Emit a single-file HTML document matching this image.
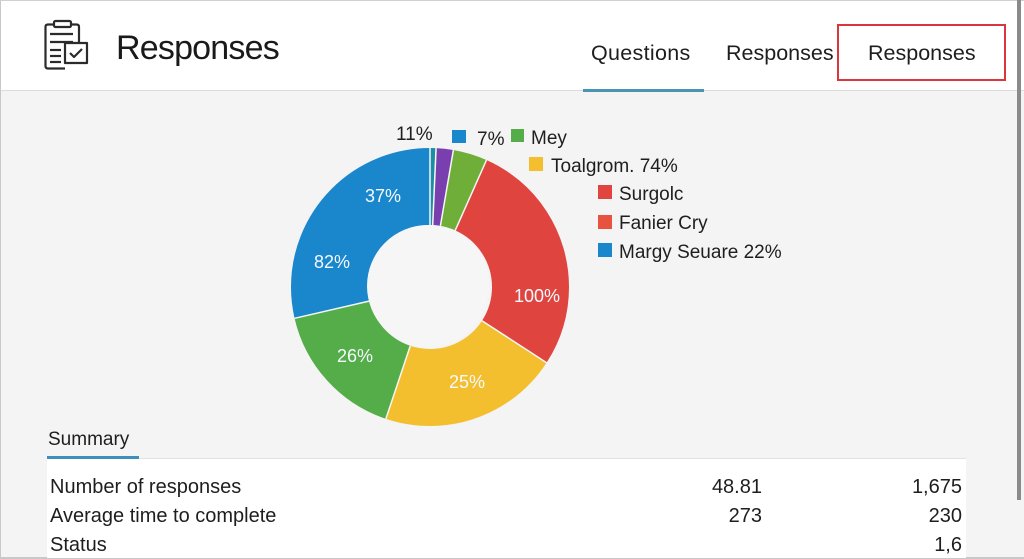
<!DOCTYPE html>
<html><head><meta charset="utf-8"><style>
html,body{margin:0;padding:0;}
body{width:1024px;height:559px;overflow:hidden;background:#f4f4f4;font-family:"Liberation Sans",sans-serif;color:#1e1e1e;position:relative;}
.a{position:absolute;white-space:nowrap;}
</style></head><body>
<div class="a" style="left:0;top:0;width:1024px;height:90px;background:#fff;border-bottom:1px solid #dcdcdc;"></div>
<div class="a" style="left:0;top:0;width:1px;height:559px;background:#c8c8c8;"></div>
<div class="a" style="left:0;top:0;width:1024px;height:1px;background:#d0d0d0;"></div>
<div class="a" style="left:0;top:557px;width:1024px;height:2px;background:#c8c8c8;"></div>
<div class="a" style="left:1017px;top:0;width:4px;height:500px;background:#8a8a8a;"></div>
<svg class="a" style="left:0;top:0" width="1024" height="559">
<g fill="none" stroke="#2b2b2b" stroke-width="2.2" stroke-linejoin="round">
<path d="M54 24.5 H48 Q45.5 24.5 45.5 27 V66 Q45.5 68.5 48 68.5 H65"/>
<path d="M71 24.5 H76.5 Q79 24.5 79 27 V42"/>
<rect x="54" y="21" width="17" height="6" rx="1.5"/>
<line x1="50" y1="34" x2="73" y2="34"/>
<line x1="50" y1="42" x2="73" y2="42"/>
<line x1="50" y1="50" x2="61" y2="50"/>
<line x1="50" y1="56" x2="61" y2="56"/>
<line x1="50" y1="62" x2="61" y2="62"/>
<rect x="65" y="43" width="22" height="20" fill="#fff"/>
<path d="M70 53 L74 57 L82 49"/>
</g>
<g transform="rotate(-90 430 287)" fill="none" stroke-width="77">
<circle cx="430" cy="287" r="100.5" stroke="#1a86cc" stroke-dasharray="180.5 631.46" stroke-dashoffset="-450.8"/>
<circle cx="430" cy="287" r="100.5" stroke="#54ad48" stroke-dasharray="102.8 631.46" stroke-dashoffset="-348.1"/>
<circle cx="430" cy="287" r="100.5" stroke="#f4bf2e" stroke-dasharray="132.6 631.46" stroke-dashoffset="-215.7"/>
<circle cx="430" cy="287" r="100.5" stroke="#e0443f" stroke-dasharray="173.8 631.46" stroke-dashoffset="-42.0"/>
<circle cx="430" cy="287" r="100.5" stroke="#6fae38" stroke-dasharray="25.3 631.46" stroke-dashoffset="-16.9"/>
<circle cx="430" cy="287" r="100.5" stroke="#7a3fae" stroke-dasharray="12.6 631.46" stroke-dashoffset="-4.3"/>
<circle cx="430" cy="287" r="100.5" stroke="#1a8fa3" stroke-dasharray="4.0 631.46" stroke-dashoffset="0"/>
</g>
<g stroke="#f6f6f6" stroke-width="1.5">
<line x1="455.2" y1="230.4" x2="486.5" y2="160.0"/>
<line x1="482.0" y1="320.8" x2="546.6" y2="362.7"/>
<line x1="410.3" y1="345.8" x2="385.9" y2="418.8"/>
<line x1="369.6" y1="301.0" x2="294.6" y2="318.3"/>
<line x1="440.4" y1="225.9" x2="453.4" y2="150.0"/>
<line x1="432.7" y1="225.1" x2="436.1" y2="148.1"/>
<line x1="430" y1="225" x2="430" y2="148"/>
</g>
<circle cx="428" cy="286" r="61" fill="#f6f6f6"/>
<g font-family="Liberation Sans, sans-serif" font-size="18" fill="#f4f9ff" text-anchor="middle">
<text x="383" y="202">37%</text>
<text x="332" y="268">82%</text>
<text x="537" y="302">100%</text>
<text x="355" y="362">26%</text>
<text x="467" y="388">25%</text>
</g>
<g font-family="Liberation Sans, sans-serif" font-size="19" fill="#1e1e1e">
<text x="396" y="140">11%</text>
<rect x="452" y="130" width="14" height="13" fill="#1a86cc"/>
<text x="477" y="145">7%</text>
<rect x="511" y="129" width="13" height="13" fill="#54ad48"/>
<text x="531" y="144">Mey</text>
<rect x="529" y="157" width="14" height="14" fill="#f4bf2e"/>
<text x="551" y="172">Toalgrom. 74%</text>
<rect x="598" y="185" width="14" height="14" fill="#e0443f"/>
<text x="619" y="200">Surgolc</text>
<rect x="598" y="215" width="14" height="14" fill="#e8533f"/>
<text x="619" y="229">Fanier Cry</text>
<rect x="598" y="243" width="14" height="14" fill="#1a86cc"/>
<text x="619" y="258">Margy Seuare 22%</text>
</g>
</svg>
<div class="a" style="left:116px;top:29px;font-size:34px;letter-spacing:-0.8px;color:#1a1a1a;">Responses</div>
<div class="a" style="left:591px;top:41px;font-size:21.5px;letter-spacing:0.3px;">Questions</div>
<div class="a" style="left:726px;top:41px;font-size:21.5px;">Responses</div>
<div class="a" style="left:868px;top:41px;font-size:21.5px;">Responses</div>
<div class="a" style="left:583px;top:89px;width:121px;height:3px;background:#4a95b4;"></div>
<div class="a" style="left:837px;top:24px;width:165px;height:53px;border:2px solid #d9363e;"></div>

<div class="a" style="left:48px;top:429px;font-size:19px;">Summary</div>
<div class="a" style="left:47px;top:458px;width:919px;height:99px;background:#fff;border-top:1px solid #e2e2e2;"></div>
<div class="a" style="left:47px;top:456px;width:92px;height:3px;background:#3f8fba;"></div>
<div class="a" style="left:50px;top:476px;font-size:20px;">Number of responses</div>
<div class="a" style="left:50px;top:505px;font-size:20px;">Average time to complete</div>
<div class="a" style="left:50px;top:534px;font-size:20px;">Status</div>
<div class="a" style="left:662px;top:476px;width:100px;text-align:right;font-size:20px;">48.81</div>
<div class="a" style="left:662px;top:505px;width:100px;text-align:right;font-size:20px;">273</div>
<div class="a" style="left:862px;top:476px;width:100px;text-align:right;font-size:20px;">1,675</div>
<div class="a" style="left:862px;top:505px;width:100px;text-align:right;font-size:20px;">230</div>
<div class="a" style="left:862px;top:534px;width:100px;text-align:right;font-size:20px;">1,6</div>
</body></html>
